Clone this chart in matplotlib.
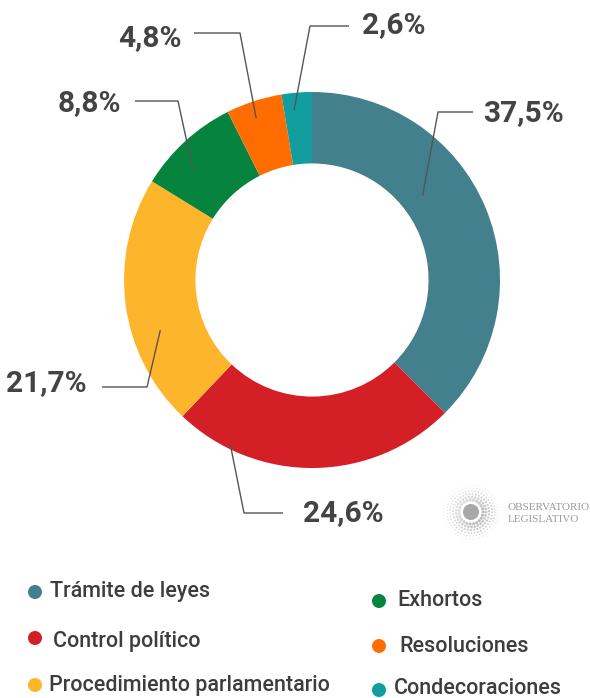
import numpy as np
import matplotlib
matplotlib.use("Agg")
import matplotlib.pyplot as plt
from matplotlib.patches import Circle

# Data
categories = ["Trámite de leyes", "Control político", "Procedimiento parlamentario",
              "Exhortos", "Resoluciones", "Condecoraciones"]
values = [37.5, 24.6, 21.7, 8.8, 4.8, 2.6]
labels = ["37,5%", "24,6%", "21,7%", "8,8%", "4,8%", "2,6%"]
colors = ["#43808D", "#D41F26", "#FDB52B", "#06833E", "#FF6D00", "#129E9F"]

W, H = 590, 698
fig = plt.figure(figsize=(W / 100, H / 100), dpi=100)
ax = fig.add_axes([0, 0, 1, 1])


def py(y):
    # pixel row (from top) -> data y
    return H - y


cx, cy, R = 312, py(280), 188
wedges, _ = ax.pie(values, colors=colors, startangle=90, counterclock=False,
                   center=(cx, cy), radius=R, frame=True,
                   wedgeprops=dict(width=R * 0.38, linewidth=0))
ax.set_xlim(0, W)
ax.set_ylim(0, H)
ax.set_aspect("equal")
ax.axis("off")

# leader line layout: (angle fraction in wedge, radius fraction, elbow px, end px, text px, ha)
layout = [
    (0.61, 0.74, (438, 112), (473, 112), (483, 113), "left"),
    (0.19, 0.97, (244, 513), (283, 513), (303, 513), "left"),
    (0.64, 0.85, (147, 387), (102, 387), (87, 383), "right"),
    (0.64, 0.87, (178, 101), (135, 101), (121, 103), "right"),
    (0.56, 0.91, (240, 33), (194, 33), (182, 38), "right"),
    (0.64, 0.91, (310, 26), (349, 26), (362, 25), "left"),
]
for w, lab, (fa, fr, elb, end, tp, ha) in zip(wedges, labels, layout):
    ang = np.deg2rad(w.theta1 + fa * (w.theta2 - w.theta1))
    ax_x = cx + fr * R * np.cos(ang)
    ax_y = cy + fr * R * np.sin(ang)
    ax.plot([ax_x, elb[0], end[0]], [ax_y, py(elb[1]), py(end[1])],
            color="#555555", lw=1.0, solid_capstyle="butt")
    ax.text(tp[0], py(tp[1]), lab, ha=ha, va="center", fontsize=21.5,
            fontweight="bold", family="Roboto", color="#444444")

# legend
leg_pos = [((35, 592), (50, 592)), ((35, 638), (53, 641)), ((35, 685), (49, 686)),
           ((379, 601), (397, 601)), ((379, 646), (399, 646)), ((379, 690), (394, 688))]
for cat, col, (mp, tp) in zip(categories, colors, leg_pos):
    ax.add_patch(Circle((mp[0], py(mp[1])), 7, color=col, lw=0))
    ax.text(tp[0], py(tp[1]), cat, ha="left", va="center", fontsize=15.5,
            fontweight="medium", family="Roboto", color="#3d3d3d")

# watermark logo
lx, ly = 471, py(512)
for i, r in enumerate([12, 15, 18, 21, 24, 27]):
    n = int(2 * np.pi * r / 3.2)
    t = np.linspace(0, 2 * np.pi, n, endpoint=False) + i * 0.2
    s = max(4.0 - i * 0.55, 1.0)
    a = 0.35 + 0.45 * (1 + np.cos(t + 0.6)) / 2
    for tt, aa in zip(t, a):
        ax.add_patch(Circle((lx + r * np.cos(tt), ly + r * np.sin(tt)), s / 2.6,
                            color="#a8a8a8", alpha=aa * (1 - i * 0.08), lw=0))
ax.add_patch(Circle((lx, ly), 8, color="#a8a8a8", lw=0))
ax.text(508, py(508), "OBSERVATORIO", ha="left", va="center", fontsize=8,
        family="Liberation Serif", color="#9a9a9a")
ax.text(508, py(520), "LEGISLATIVO", ha="left", va="center", fontsize=8,
        family="Liberation Serif", color="#9a9a9a")

fig.savefig("out.png", dpi=100, facecolor="white")
